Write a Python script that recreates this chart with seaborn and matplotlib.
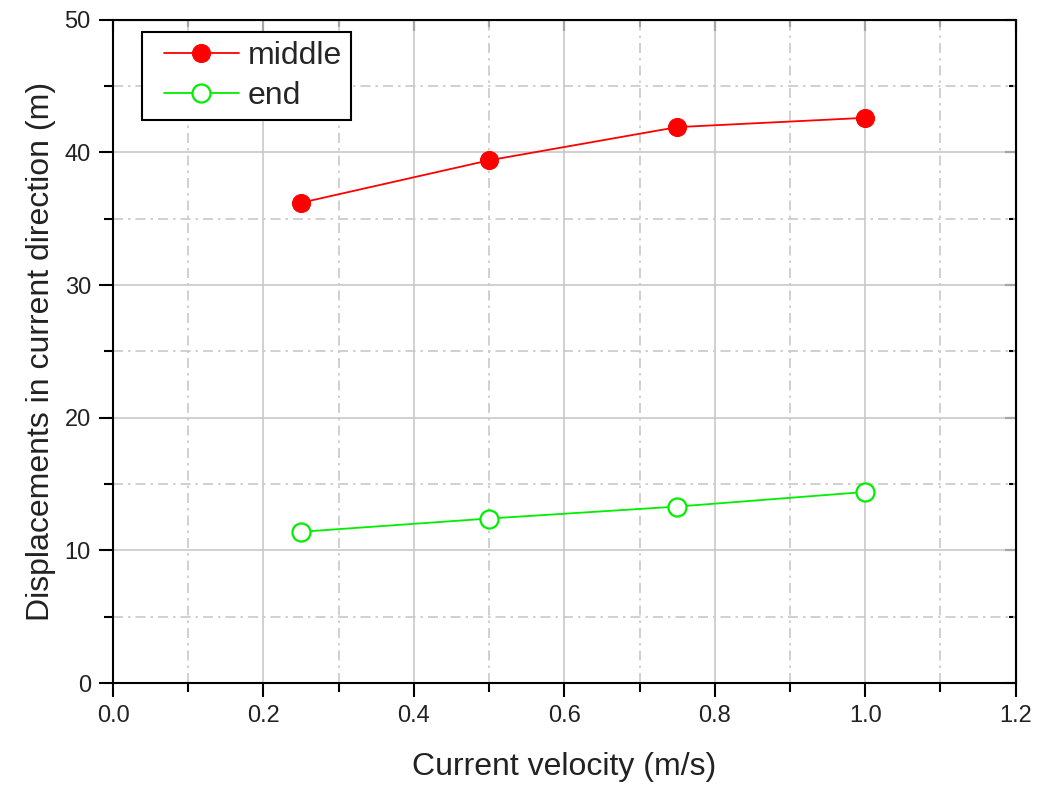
import matplotlib
matplotlib.use("Agg")
import matplotlib.pyplot as plt
import seaborn as sns
import pandas as pd
from matplotlib.ticker import MultipleLocator
from matplotlib.lines import Line2D
from matplotlib.legend_handler import HandlerLine2D

velocity = [0.25, 0.5, 0.75, 1.0]
middle = [36.2, 39.4, 41.9, 42.6]
end = [11.4, 12.4, 13.3, 14.4]

df = pd.DataFrame({
    "velocity": velocity * 2,
    "disp": middle + end,
    "series": ["middle"] * 4 + ["end"] * 4,
})

sns.set_style("white")
plt.rcParams['font.family'] = ['Liberation Sans', 'DejaVu Sans']

fig = plt.figure(figsize=(10.47, 7.86), dpi=100)
ax = fig.add_axes([0.108, 0.131, 0.862, 0.844])

sns.lineplot(data=df[df.series == "middle"], x="velocity", y="disp", ax=ax,
             color="#ff0000", marker="o", markersize=13, markeredgecolor="#ff0000",
             markerfacecolor="#ff0000", linewidth=1.3, label="middle", zorder=5)
sns.lineplot(data=df[df.series == "end"], x="velocity", y="disp", ax=ax,
             color="#00ee00", marker="o", markersize=13, markeredgecolor="#00ee00",
             markerfacecolor="white", markeredgewidth=1.6, linewidth=1.3, label="end", zorder=5)

ax.set_xlim(0, 1.2)
ax.set_ylim(0, 50)
ax.xaxis.set_major_locator(MultipleLocator(0.2))
ax.xaxis.set_minor_locator(MultipleLocator(0.1))
ax.yaxis.set_major_locator(MultipleLocator(10))
ax.yaxis.set_minor_locator(MultipleLocator(5))
ax.set_xticklabels([f"{v:.1f}" for v in ax.get_xticks()])

ax.grid(which="major", color="#c8c8c8", linestyle="-", linewidth=1.2)
ax.grid(which="minor", color="#c8c8c8", linestyle="-.", linewidth=1.2, dashes=(6, 3, 1.5, 3))
ax.set_axisbelow(True)

for s in ax.spines.values():
    s.set_color("black")
    s.set_linewidth(1.5)

ax.tick_params(which="both", direction="out", bottom=True, left=True, top=False, right=False,
               color="black", width=1.5, labelsize=17, labelcolor="#222222")
ax.tick_params(which="major", length=10, pad=6)
ax.tick_params(which="minor", length=6.5)

# inward ticks on top and right
sec_x = ax.secondary_xaxis("top")
sec_x.xaxis.set_major_locator(MultipleLocator(0.2))
sec_x.xaxis.set_minor_locator(MultipleLocator(0.1))
sec_x.tick_params(which="both", direction="in", labeltop=False, width=1.5, color="black")
sec_x.tick_params(which="major", length=8)
sec_x.tick_params(which="minor", length=5)
sec_y = ax.secondary_yaxis("right")
sec_y.yaxis.set_major_locator(MultipleLocator(10))
sec_y.yaxis.set_minor_locator(MultipleLocator(5))
sec_y.tick_params(which="both", direction="in", labelright=False, width=1.5, color="black")
sec_y.tick_params(which="major", length=8)
sec_y.tick_params(which="minor", length=5)

ax.set_xlabel("Current velocity (m/s)", fontsize=23, color="#222222", labelpad=18)
ax.set_ylabel("Displacements in current direction (m)", fontsize=23, color="#222222", labelpad=6)

leg = ax.legend(loc="upper left", bbox_to_anchor=(0.032, 0.982), fontsize=23, frameon=True,
                fancybox=False, edgecolor="black", framealpha=1, handlelength=2.75,
                handletextpad=0.25, borderpad=0.3, labelspacing=0.3, borderaxespad=0,
                handler_map={Line2D: HandlerLine2D(xpad=0.375)})
leg.get_frame().set_linewidth(1.5)

fig.savefig("out.png", dpi=100)
